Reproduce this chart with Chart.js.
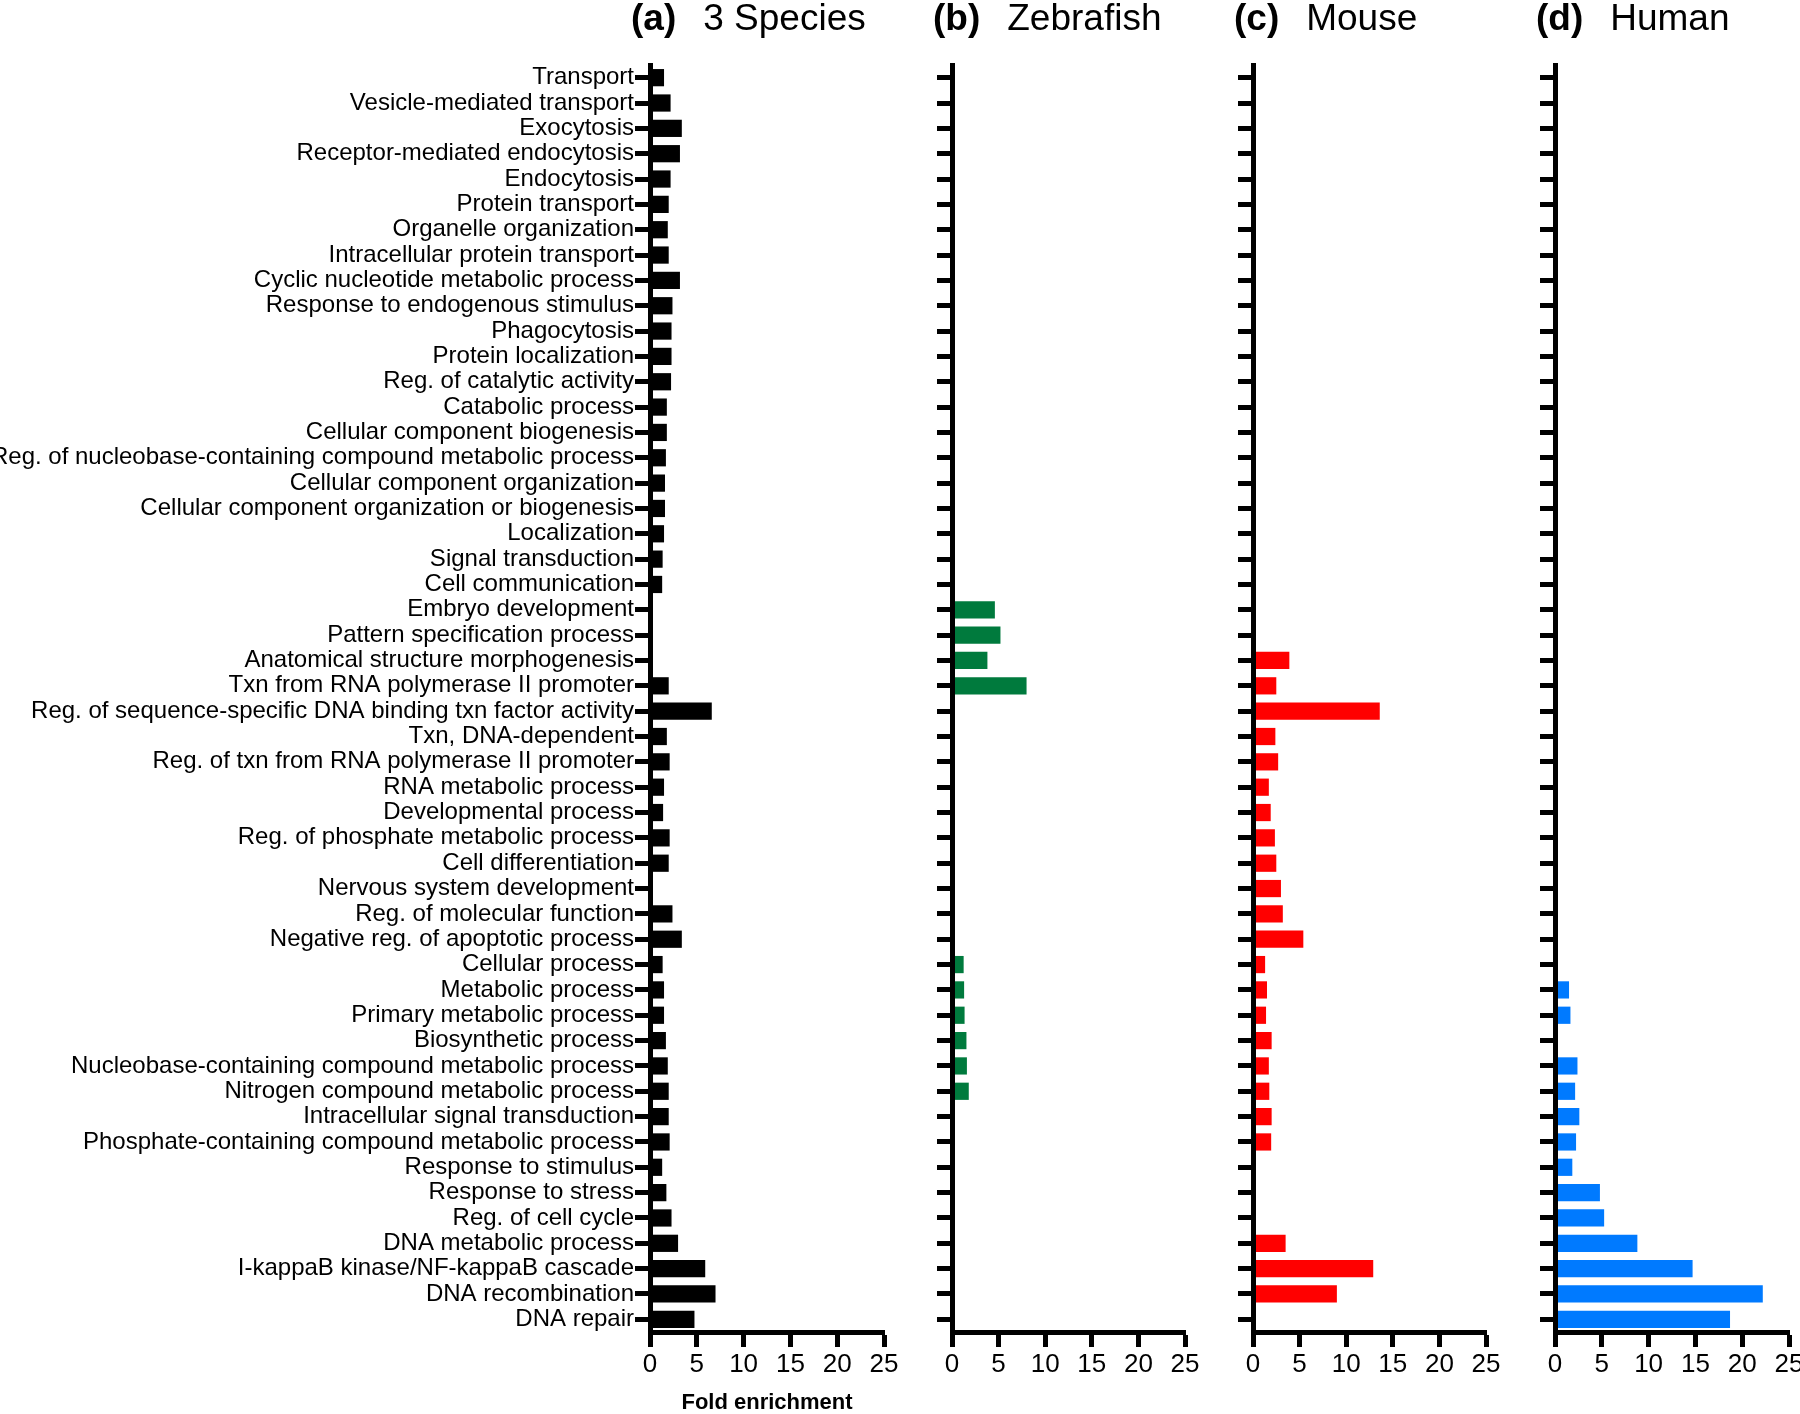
<!DOCTYPE html>
<html>
<head>
<meta charset="utf-8">
<script src="https://cdn.jsdelivr.net/npm/chart.js@4.4.0/dist/chart.umd.min.js"></script>
<style>
  html, body { margin: 0; padding: 0; background: #fff; }
  #wrap { position: relative; width: 1800px; height: 1414px; overflow: hidden; background: #fff; }
  canvas { position: absolute; top: 0; }
</style>
</head>
<body>
<div id="wrap">
  <canvas id="cA" width="920" height="1414" style="left:0px"></canvas>
  <canvas id="cB" width="320" height="1414" style="left:900px"></canvas>
  <canvas id="cC" width="320" height="1414" style="left:1200px"></canvas>
  <canvas id="cD" width="320" height="1414" style="left:1500px"></canvas>
</div>
<script>
// ---------- data ----------
const categories = [
  "Transport",
  "Vesicle-mediated transport",
  "Exocytosis",
  "Receptor-mediated endocytosis",
  "Endocytosis",
  "Protein transport",
  "Organelle organization",
  "Intracellular protein transport",
  "Cyclic nucleotide metabolic process",
  "Response to endogenous stimulus",
  "Phagocytosis",
  "Protein localization",
  "Reg. of catalytic activity",
  "Catabolic process",
  "Cellular component biogenesis",
  "Reg. of nucleobase-containing compound metabolic process",
  "Cellular component organization",
  "Cellular component organization or biogenesis",
  "Localization",
  "Signal transduction",
  "Cell communication",
  "Embryo development",
  "Pattern specification process",
  "Anatomical structure morphogenesis",
  "Txn from RNA polymerase II promoter",
  "Reg. of sequence-specific DNA binding txn factor activity",
  "Txn, DNA-dependent",
  "Reg. of txn from RNA polymerase II promoter",
  "RNA metabolic process",
  "Developmental process",
  "Reg. of phosphate metabolic process",
  "Cell differentiation",
  "Nervous system development",
  "Reg. of molecular function",
  "Negative reg. of apoptotic process",
  "Cellular process",
  "Metabolic process",
  "Primary metabolic process",
  "Biosynthetic process",
  "Nucleobase-containing compound metabolic process",
  "Nitrogen compound metabolic process",
  "Intracellular signal transduction",
  "Phosphate-containing compound metabolic process",
  "Response to stimulus",
  "Response to stress",
  "Reg. of cell cycle",
  "DNA metabolic process",
  "I-kappaB kinase/NF-kappaB cascade",
  "DNA recombination",
  "DNA repair"
];

const threeSpecies = [
  1.5, 2.2, 3.4, 3.2, 2.2, 2.0, 1.9, 2.0, 3.2, 2.4,
  2.3, 2.3, 2.25, 1.8, 1.8, 1.7, 1.6, 1.6, 1.5, 1.35,
  1.3, null, null, null, 2.0, 6.6, 1.8, 2.1, 1.5, 1.4,
  2.1, 2.0, null, 2.4, 3.4, 1.35, 1.5, 1.5, 1.7, 1.9,
  2.0, 2.0, 2.1, 1.3, 1.75, 2.3, 3.0, 5.9, 7.0, 4.75
];

const zebrafish = [
  null, null, null, null, null, null, null, null, null, null,
  null, null, null, null, null, null, null, null, null, null,
  null, 4.6, 5.2, 3.8, 8.0, null, null, null, null, null,
  null, null, null, null, null, 1.25, 1.3, 1.35, 1.55, 1.6,
  1.8, null, null, null, null, null, null, null, null, null
];

const mouse = [
  null, null, null, null, null, null, null, null, null, null,
  null, null, null, null, null, null, null, null, null, null,
  null, null, null, 3.9, 2.5, 13.6, 2.4, 2.7, 1.7, 1.9,
  2.35, 2.5, 3.0, 3.2, 5.4, 1.3, 1.5, 1.4, 2.0, 1.7,
  1.75, 2.0, 1.95, null, null, null, 3.5, 12.9, 9.0, null
];

const human = [
  null, null, null, null, null, null, null, null, null, null,
  null, null, null, null, null, null, null, null, null, null,
  null, null, null, null, null, null, null, null, null, null,
  null, null, null, null, null, null, 1.5, 1.65, null, 2.4,
  2.15, 2.6, 2.25, 1.85, 4.8, 5.25, 8.8, 14.7, 22.2, 18.7
];

const panelLetters = ["(a)", "(b)", "(c)", "(d)"];
const panelNames = ["3 Species", "Zebrafish", "Mouse", "Human"];
const xTickValues = [0, 5, 10, 15, 20, 25];
const xAxisTitle = "Fold enrichment";

// ---------- drawing ----------
const FONT = '"Liberation Sans", Arial, Helvetica, sans-serif';
const NARROW = '"Liberation Sans Narrow", "Liberation Sans", Arial, sans-serif';

const panelTitle = {
  id: 'panelTitle',
  afterDraw(chart, args, opts) {
    const ctx = chart.ctx;
    ctx.save();
    const x0 = chart.chartArea.left - 19;
    ctx.fillStyle = '#000';
    ctx.textAlign = 'left';
    ctx.textBaseline = 'alphabetic';
    ctx.font = 'bold 37px ' + FONT;
    ctx.fillText(opts.letter, x0, 30);
    const w = ctx.measureText(opts.letter).width;
    ctx.font = '37px ' + FONT;
    ctx.fillText(opts.name, x0 + w + 27, 30);
    ctx.restore();
  }
};

function makePanel(id, values, color, idx, yWidth, padRight, showLabels) {
  const ctx = document.getElementById(id).getContext('2d');
  return new Chart(ctx, {
    type: 'bar',
    data: {
      labels: categories,
      datasets: [{
        data: values,
        backgroundColor: color,
        borderWidth: 0,
        categoryPercentage: 1.0,
        barPercentage: 0.68
      }]
    },
    plugins: [panelTitle],
    options: {
      indexAxis: 'y',
      responsive: false,
      animation: false,
      devicePixelRatio: 1,
      layout: { padding: { top: 65, right: padRight, bottom: 0, left: 0 } },
      plugins: {
        legend: { display: false },
        tooltip: { enabled: false },
        title: { display: false },
        panelTitle: { letter: panelLetters[idx], name: panelNames[idx] }
      },
      scales: {
        y: {
          type: 'category',
          offset: true,
          afterFit: s => { s.width = yWidth; },
          grid: {
            display: true,
            offset: false,
            drawOnChartArea: false,
            drawTicks: true,
            tickLength: 15,
            tickWidth: 5,
            tickColor: '#000',
            color: '#000'
          },
          border: { display: true, color: '#000', width: 5, z: 1 },
          ticks: {
            display: showLabels,
            autoSkip: false,
            padding: 1,
            color: '#000',
            font: { family: FONT, size: 24 }
          }
        },
        x: {
          type: 'linear',
          min: 0,
          max: 25,
          afterFit: s => { s.height = 82; },
          afterBuildTicks: s => { s.ticks = xTickValues.map(v => ({ value: v })); },
          grid: {
            display: true,
            drawOnChartArea: false,
            drawTicks: true,
            tickLength: 15,
            tickWidth: 5,
            tickColor: '#000',
            color: '#000'
          },
          border: { display: true, color: '#000', width: 5, z: 1 },
          ticks: {
            autoSkip: false,
            maxRotation: 0,
            padding: 2,
            color: '#000',
            font: { family: NARROW, size: 26 }
          },
          title: {
            display: showLabels,
            text: xAxisTitle,
            color: '#000',
            padding: 0,
            font: { family: FONT, size: 22, weight: 'bold', lineHeight: 1.0 }
          }
        }
      }
    }
  });
}

makePanel('cA', threeSpecies, '#000000', 0, 650, 36, true);
makePanel('cB', zebrafish, '#007a3d', 1, 52, 35, false);
makePanel('cC', mouse, '#ff0000', 2, 53, 34, false);
makePanel('cD', human, '#007aff', 3, 55, 31, false);
</script>
</body>
</html>
